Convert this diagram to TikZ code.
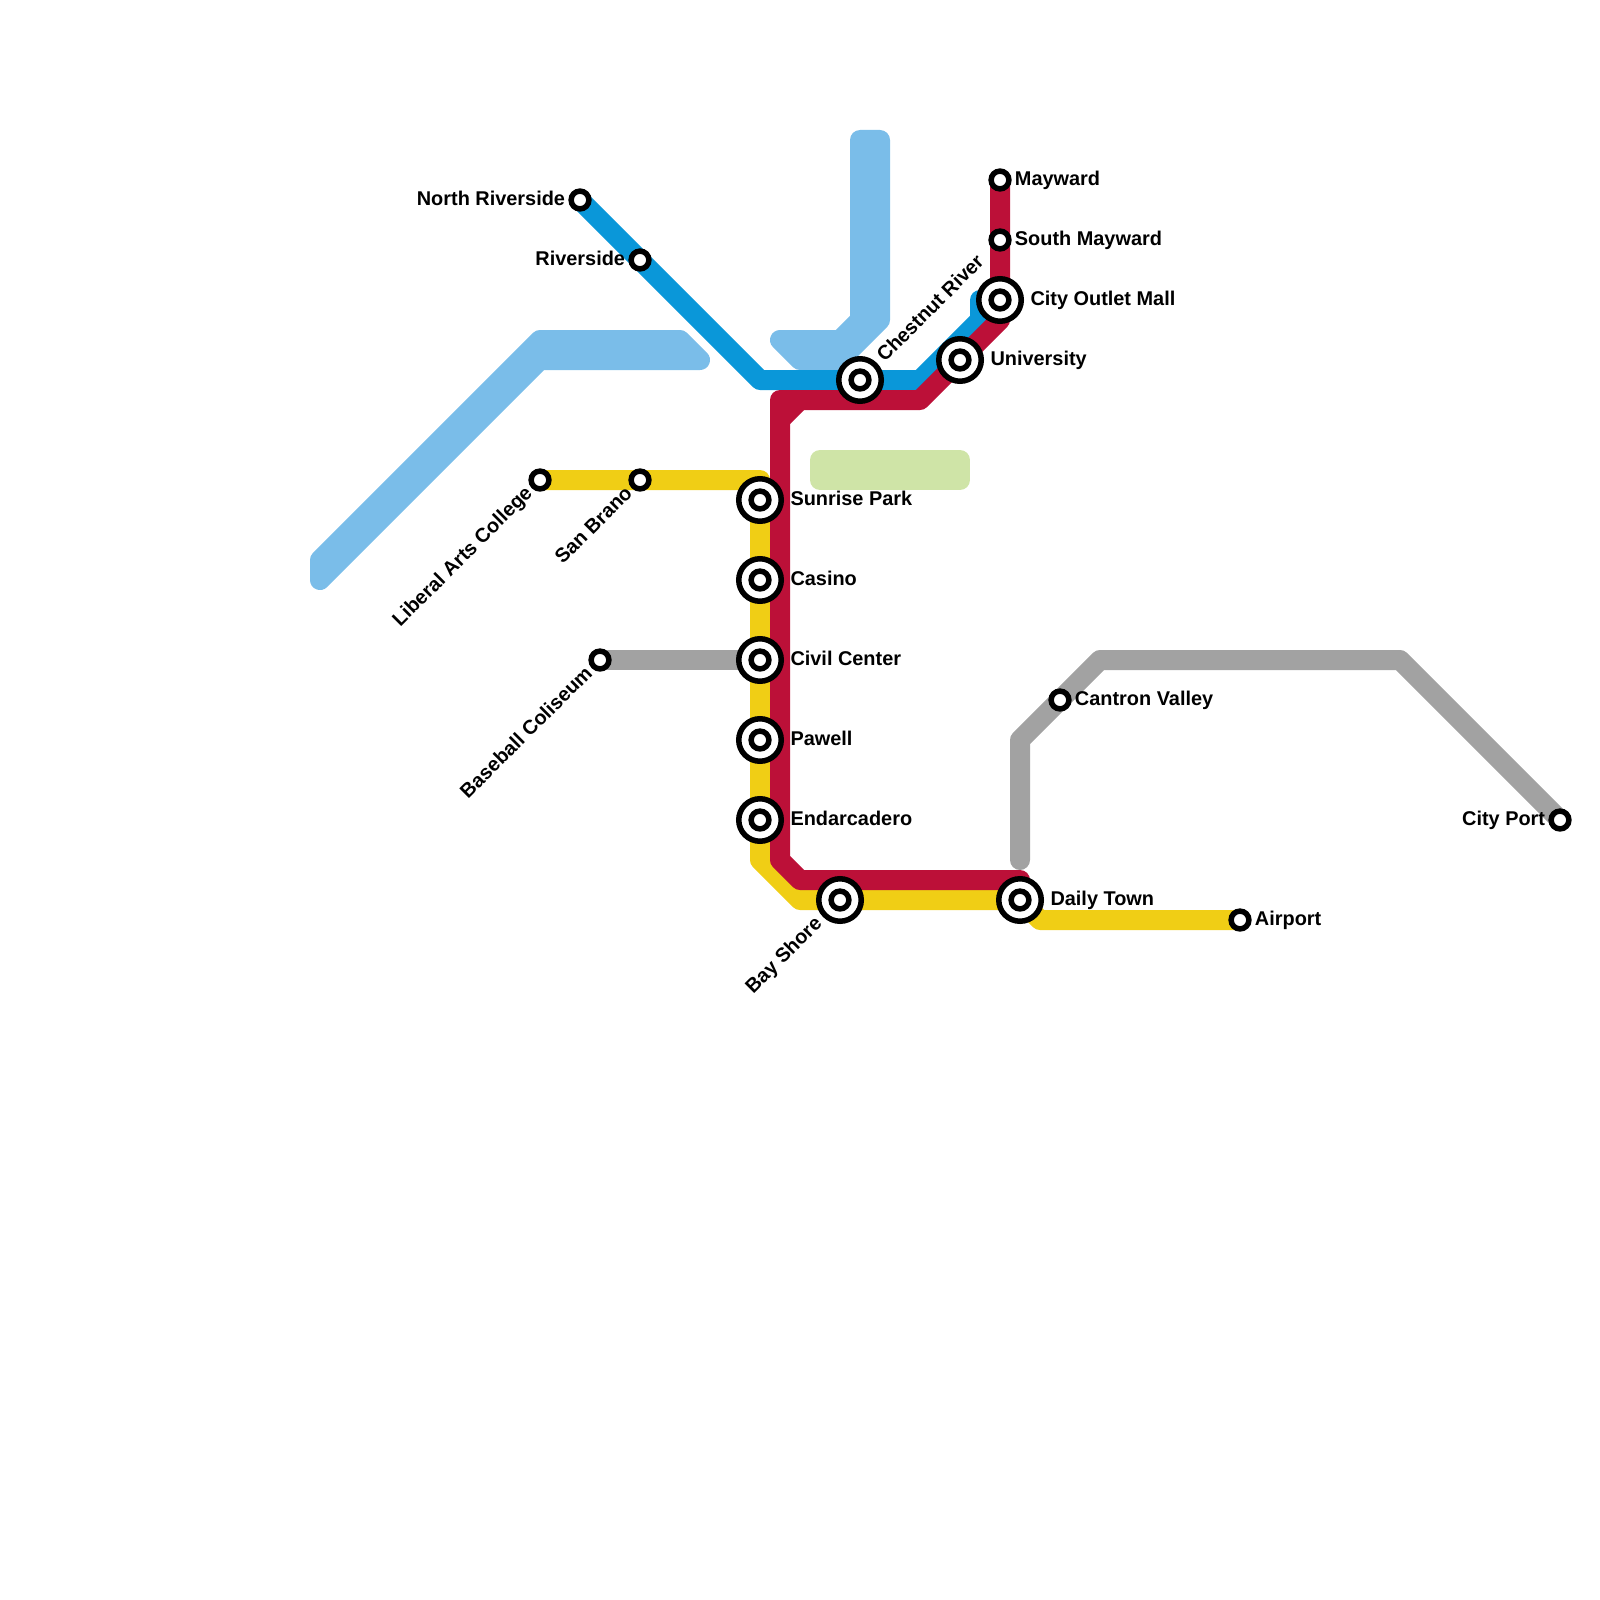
\documentclass[tikz,border=0pt]{standalone}
\usepackage{fontspec}
\setmainfont{Liberation Sans}
\usepackage{xcolor}
\usetikzlibrary{positioning, backgrounds}

\definecolor{skyline}{HTML}{7ABDE9}
\definecolor{blueline}{HTML}{0A97D9}
\definecolor{redline}{HTML}{BC1038}
\definecolor{yellowline}{HTML}{F0CE15}
\definecolor{grayline}{HTML}{A2A2A2}
\definecolor{parkgreen}{HTML}{CFE4A7}

\begin{document}
\begin{tikzpicture}[
  x=1pt, y=-1pt,
  metro/.style={line width=20pt, line cap=round, line join=round},
  stop/.style={circle, draw=black, fill=white, line width=5.5pt, minimum size=17.8pt, inner sep=0pt},
  hub/.style={circle, draw=black, fill=white, line width=5.5pt, minimum size=42.5pt, inner sep=0pt,
    path picture={\draw[line width=5.5pt, fill=white] (path picture bounding box.center) circle (8.9pt);}},
  tag/.style={font=\fontsize{19.9}{24}\selectfont\bfseries, inner sep=0pt, outer sep=0pt, text height=14pt, text depth=3pt},
]
  \useasboundingbox (0,0) rectangle (1600,1600);

  % Blue and red stops at the top
  \node[stop] (northriverside) at (580,200) {};
  \node[stop] (riverside) at (640,260) {};
  \node[stop] (mayward) at (1000,180) {};
  \node[stop] (southmayward) at (1000,240) {};
  \node[hub] (outletmall) at (1000,300) {};
  \node[hub] (university) at (960,360) {};
  \node[hub] (chestnut) at (860,380) {};

  % Yellow stops
  \node[stop] (liberalarts) at (540,480) {};
  \node[stop] (sanbrano) at (640,480) {};
  \node[hub] (sunrise) at (760,500) {};
  \node[hub] (casino) at (760,580) {};
  \node[hub] (civic) at (760,660) {};
  \node[hub] (pawell) at (760,740) {};
  \node[hub] (endarcadero) at (760,820) {};
  \node[hub] (bayshore) at (840,900) {};
  \node[hub] (dailytown) at (1020,900) {};
  \node[stop] (airport) at (1240,920) {};

  % Gray stops
  \node[stop] (coliseum) at (600,660) {};
  \node[stop] (cantron) at (1060,700) {};
  \node[stop] (cityport) at (1560,820) {};

  % Bends
  \coordinate (bluebendA) at (760,380);
  \coordinate (bluebendB) at (920,380);
  \coordinate (bluebendC) at (980,320);
  \coordinate (blueend) at (980,300);
  \coordinate (redbendA) at (1000,320);
  \coordinate (redbendB) at (920,400);
  \coordinate (redbendC) at (780,400);
  \coordinate (redbendD) at (780,860);
  \coordinate (redbendE) at (800,880);
  \coordinate (redend) at (1020,880);
  \coordinate (rednotchA) at (800,400);
  \coordinate (rednotchB) at (780,420);
  \coordinate (yellowbendA) at (760,480);
  \coordinate (yellowbendB) at (760,860);
  \coordinate (yellowbendC) at (800,900);
  \coordinate (yellowbendD) at (1040,920);
  \coordinate (grayend) at (1020,860);
  \coordinate (graybendA) at (1020,740);
  \coordinate (graybendB) at (1100,660);
  \coordinate (graybendC) at (1400,660);

  \begin{scope}[on background layer]
    % Wide light blue bundles and the park
    \draw[metro, draw=skyline, fill=skyline] (320,580) -- (540,360) -- (700,360) -- (680,340) -- (540,340) -- (320,560) -- cycle;
    \draw[metro, draw=skyline, fill=skyline] (860,140) -- (860,320) -- (840,340) -- (780,340) -- (800,360) -- (840,360) -- (880,320) -- (880,140) -- cycle;
    \draw[metro, draw=parkgreen, fill=parkgreen] (820,460) rectangle (960,480);

    % Lines
    \draw[metro, draw=grayline] (coliseum.center) -- (civic.center);
    \draw[metro, draw=grayline] (grayend) -- (graybendA) -- (graybendB) -- (graybendC) -- (cityport.center);
    \draw[metro, draw=blueline] (northriverside.center) -- (riverside.center) -- (bluebendA) -- (chestnut.center) -- (bluebendB) -- (bluebendC) -- (blueend);
    \draw[metro, draw=yellowline] (liberalarts.center) -- (sanbrano.center) -- (yellowbendA) -- (yellowbendB) -- (yellowbendC) -- (dailytown.center) -- (yellowbendD) -- (airport.center);
    \draw[metro, draw=redline] (mayward.center) -- (southmayward.center) -- (redbendA) -- (redbendB) -- (redbendC) -- (redbendD) -- (redbendE) -- (redend);
    \draw[metro, draw=redline] (rednotchA) -- (rednotchB);
  \end{scope}

  % Names to the right
  \node[tag, right=3.3pt of mayward] (maywardname) {Mayward};
  \node[tag, right=3.3pt of southmayward] (southmaywardname) {South Mayward};
  \node[tag, right=6.5pt of outletmall] (outletmallname) {City Outlet Mall};
  \node[tag, right=6.5pt of university] (universityname) {University};
  \node[tag, right=6.5pt of sunrise] (sunrisename) {Sunrise Park};
  \node[tag, right=6.5pt of casino] (casinoname) {Casino};
  \node[tag, right=6.5pt of civic] (civicname) {Civil Center};
  \node[tag, right=6.5pt of pawell] (pawellname) {Pawell};
  \node[tag, right=6.5pt of endarcadero] (endarcaderoname) {Endarcadero};
  \node[tag, right=6.5pt of dailytown] (dailytownname) {Daily Town};
  \node[tag, right=3.3pt of airport] (airportname) {Airport};
  \node[tag, right=3.3pt of cantron] (cantronname) {Cantron Valley};

  % Names to the left
  \node[tag, left=3.3pt of northriverside] (northriversidename) {North Riverside};
  \node[tag, left=3.3pt of riverside] (riversidename) {Riverside};
  \node[tag, left=3.3pt of cityport] (cityportname) {City Port};

  % Slanted names
  \node[tag, anchor=west, rotate=45] (chestnutname) at ([shift={(21,-21)}]chestnut.center) {Chestnut River};
  \node[tag, anchor=east, rotate=45] (liberalartsname) at ([shift={(-10.6,10.6)}]liberalarts.center) {Liberal Arts College};
  \node[tag, anchor=east, rotate=45] (sanbranoname) at ([shift={(-10.6,10.6)}]sanbrano.center) {San Brano};
  \node[tag, anchor=east, rotate=45] (coliseumname) at ([shift={(-10.6,10.6)}]coliseum.center) {Baseball Coliseum};
  \node[tag, anchor=east, rotate=45] (bayshorename) at ([shift={(-21,21)}]bayshore.center) {Bay Shore};

\end{tikzpicture}
\end{document}
